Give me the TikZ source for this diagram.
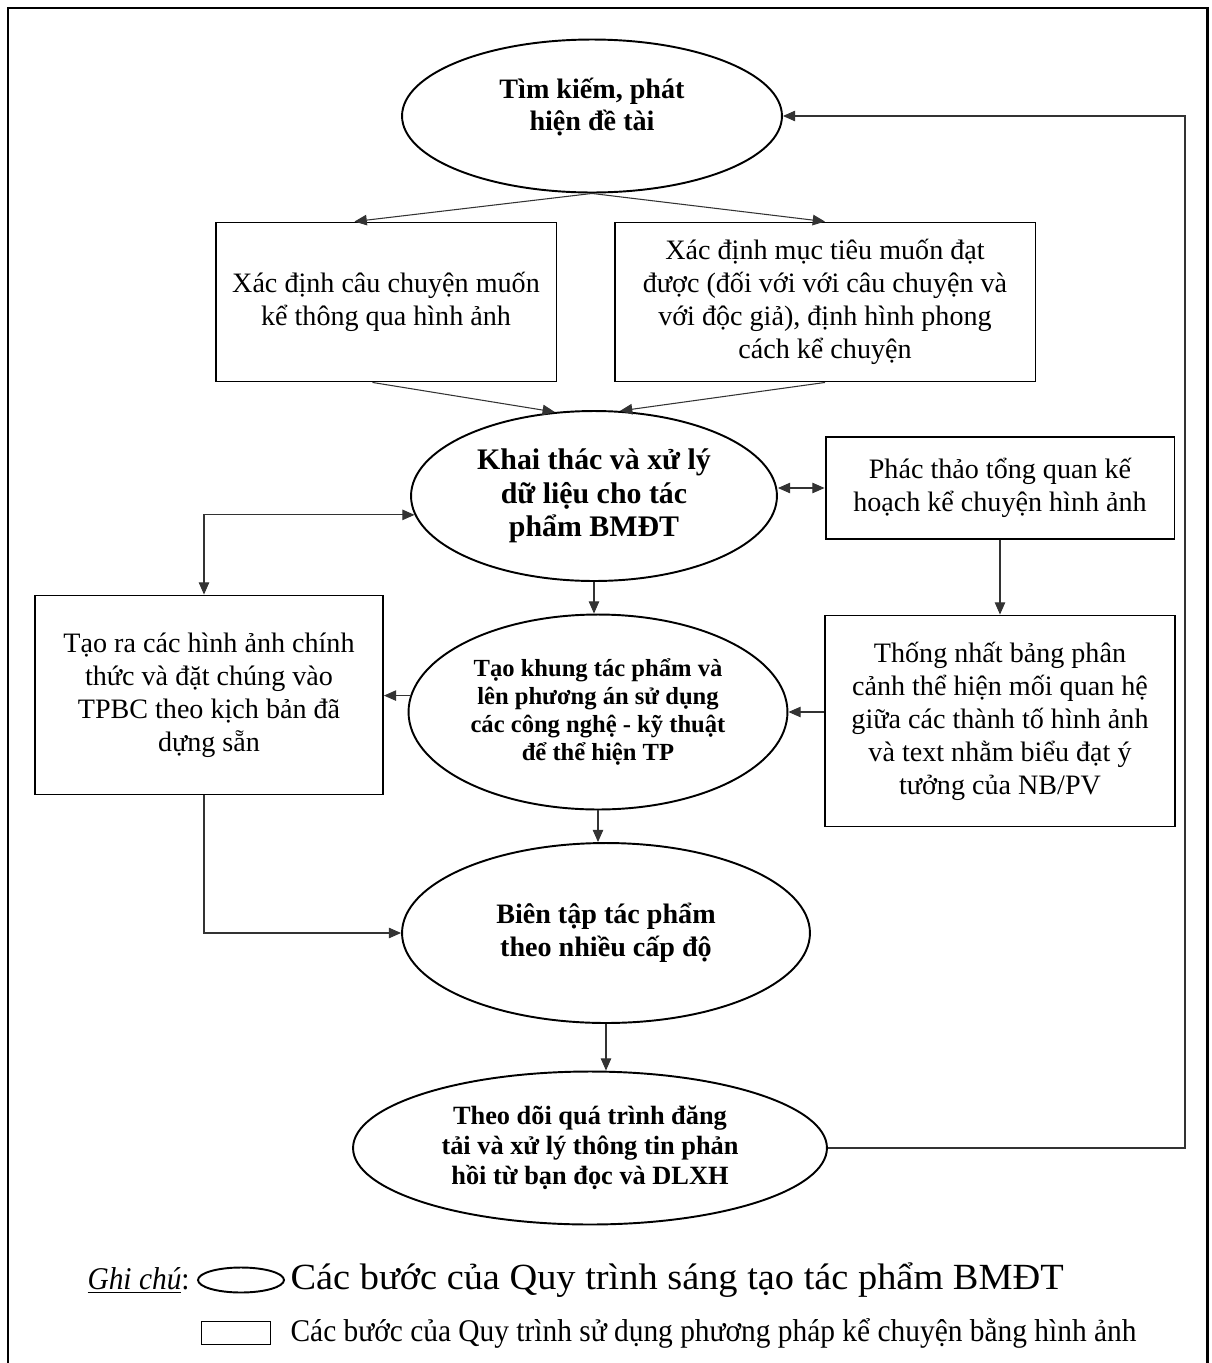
\documentclass[tikz,border=0pt]{standalone}
\usepackage{fontspec}
\setmainfont{Liberation Serif}
\newfontfamily\legendfont[FakeStretch=0.93]{Liberation Serif}
\newfontfamily\legendwide[FakeStretch=1.04]{Liberation Serif}
\usetikzlibrary{shapes.geometric, arrows.meta, positioning}

\begin{document}
\begin{tikzpicture}[x=0.02cm, y=-0.02cm,
    >={Triangle[length=7pt,width=6pt]},
    stepell/.style={ellipse, draw, line width=1.1pt, inner sep=0pt, align=center,
      font=\bfseries\fontsize{16}{18.5}\selectfont},
    stepbox/.style={rectangle, draw, line width=1.1pt, inner sep=0pt, align=center,
      font=\fontsize{16}{18.8}\selectfont},
    link/.style={draw=black!80, line width=0.6pt, ->},
    legend/.style={inner sep=0pt, font=\legendfont\fontsize{18}{20}\selectfont}]
         \useasboundingbox (0,0) rectangle (1211,1363);
         \draw [line width=1.7pt] (8,1363) -- (8,8) -- (1207,8) -- (1207,1363);

         \node[stepell, minimum width=7.6cm, minimum height=3.06cm] (find) at (592,116) {};
         \node[align=center, font=\bfseries\fontsize{16}{18.5}\selectfont] (findtxt) at (592,107) {Tìm kiếm, phát\\hiện đề tài};
         \node[stepbox, minimum width=6.82cm, minimum height=3.18cm] (story) at (386,302) {Xác định câu chuyện muốn\\kể thông qua hình ảnh};
         \node[stepbox, minimum width=8.42cm, minimum height=3.18cm] (goal) at (825,302) {Xác định mục tiêu muốn đạt\\được (đối với với câu chuyện và\\với độc giả), định hình phong\\cách kể chuyện};
         \node[stepell, minimum width=7.32cm, minimum height=3.4cm,
           font=\bfseries\fontsize{17}{19}\selectfont] (data) at (594,496) {Khai thác và xử lý\\dữ liệu cho tác\\phẩm BMĐT};
         \node[stepbox, minimum width=6.98cm, minimum height=2.04cm] (sketch) at (1000,488) {Phác thảo tổng quan kế\\hoạch kể chuyện hình ảnh};
         \node[stepbox, minimum width=6.96cm, minimum height=3.98cm] (image) at (209,695) {Tạo ra các hình ảnh chính\\thức và đặt chúng vào\\TPBC theo kịch bản đã\\dựng sẵn};
         \node[stepell, minimum width=7.58cm, minimum height=3.9cm,
           font=\bfseries\fontsize{14}{16}\selectfont] (frame) at (598,712) {Tạo khung tác phẩm và\\lên phương án sử dụng\\các công nghệ - kỹ thuật\\để thể hiện TP};
         \node[stepbox, minimum width=7cm, minimum height=4.22cm] (board) at (1000,721) {Thống nhất bảng phân\\cảnh thể hiện mối quan hệ\\giữa các thành tố hình ảnh\\và text nhằm biểu đạt ý\\tưởng của NB/PV};
         \node[stepell, minimum width=8.16cm, minimum height=3.6cm] (edit) at (606,933) {Biên tập tác phẩm\\theo nhiều cấp độ};
         \node[stepell, minimum width=9.48cm, minimum height=3.06cm,
           font=\bfseries\fontsize{15}{17}\selectfont] (track) at (590,1148) {Theo dõi quá trình đăng\\tải và xử lý thông tin phản\\hồi từ bạn đọc và DLXH};

         \draw[link] (find.south) -- ([xshift=-0.63cm]story.north);
         \draw[link] (find.south) -- (goal.north);
         \draw[link] ([xshift=-0.27cm]story.south) -- (data.115);
         \draw[link] (goal.south) -- (data.73);
         \draw[link, <->] (data.east |- sketch.west) -- (sketch.west);
         \draw[link, <->] (data.186) -| ([xshift=-0.1cm]image.north);
         \draw[link] (data.south) -- (data.south |- frame.north);
         \draw[link] (frame.175) -- (frame.175 -| image.east);
         \draw[link] (sketch.south) -- (board.north);
         \draw[link] (board.west |- frame.east) -- (frame.east);
         \draw[link] (frame.south) -- (frame.south |- edit.north);
         \draw[link] ([xshift=-0.1cm]image.south) |- (edit.west);
         \draw[link] (edit.south) -- (edit.south |- track.north);
         \coordinate (back) at (1185,600);
         \draw[link] (track.east) -| (back) |- (find.east);

         % legend
         \node[ellipse, draw, line width=1.1pt, minimum width=1.72cm, minimum height=0.5cm, inner sep=0pt] (lge) at (241,1280) {};
         \node[rectangle, draw, line width=1.1pt, minimum width=1.38cm, minimum height=0.46cm, inner sep=0pt] (lgb) at (236,1333) {};
         \node[legend, left=4pt of lge] (note) {\underline{\textit{Ghi chú}}:};
         \node[legend, right=3pt of lge, font=\legendwide\fontsize{21}{23}\selectfont] (lgtext) {Các bước của Quy trình sáng tạo tác phẩm BMĐT};
         \node[legend, anchor=west] (lgtext2) at (lgtext.west |- lgb) {Các bước của Quy trình sử dụng phương pháp kể chuyện bằng hình ảnh};
       \end{tikzpicture}
\end{document}
